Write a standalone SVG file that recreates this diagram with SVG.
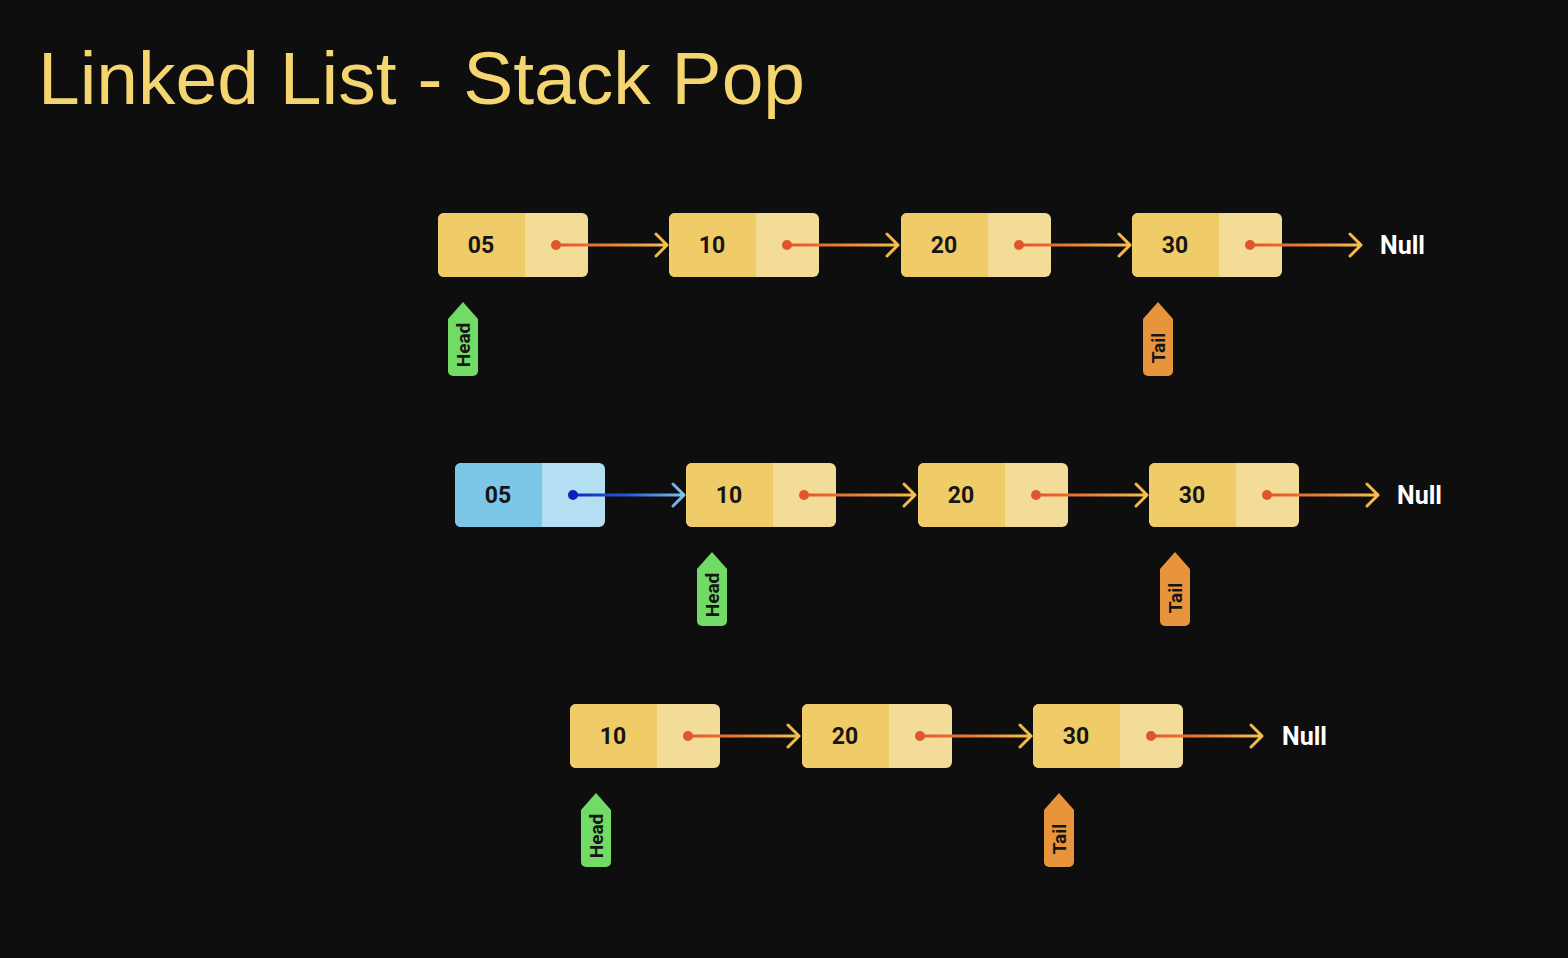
<svg xmlns="http://www.w3.org/2000/svg" width="1568" height="958" viewBox="0 0 1568 958">
  <defs>
    <linearGradient id="gOr" gradientUnits="userSpaceOnUse" x1="0" y1="0" x2="112" y2="0">
      <stop offset="0" stop-color="#E2552B"/>
      <stop offset="0.45" stop-color="#EB7A35"/>
      <stop offset="1" stop-color="#F6C24E"/>
    </linearGradient>
    <linearGradient id="gBl" gradientUnits="userSpaceOnUse" x1="0" y1="0" x2="112" y2="0">
      <stop offset="0" stop-color="#0B28C0"/>
      <stop offset="0.5" stop-color="#2A5AD8"/>
      <stop offset="1" stop-color="#7EC6EC"/>
    </linearGradient>
    <style>
      .bg { fill: #0E0E0E; }
      .title { font-family: "Liberation Sans", Arial, sans-serif; font-size: 75px; fill: #F4D570; }
      .nR { fill: #F2DC98; }
      .nL { fill: #F0CC68; }
      .bR { fill: #B4DEF2; }
      .bL { fill: #7CC6E8; }
      .val { font-family: Roboto, "Liberation Sans", sans-serif; font-weight: 700; font-size: 23px; fill: #151515; text-anchor: middle; dominant-baseline: central; }
      .null { font-family: Roboto, "Liberation Sans", sans-serif; font-weight: 700; font-size: 25px; fill: #FFFFFF; dominant-baseline: central; }
      .tag { font-family: Roboto, "Liberation Sans", sans-serif; font-weight: 700; font-size: 19px; fill: #151515; text-anchor: middle; dominant-baseline: central; }
      .head { fill: #72DB66; }
      .tail { fill: #E8943A; }
      .lnO { fill: none; stroke: url(#gOr); stroke-width: 3; stroke-linecap: round; stroke-linejoin: round; }
      .lnB { fill: none; stroke: url(#gBl); stroke-width: 3; stroke-linecap: round; stroke-linejoin: round; }
      .dotO { fill: #E0552B; }
      .dotB { fill: #0A22B8; }
    </style>
    <path id="lp" d="M6,0 H87 V64 H6 A6,6 0 0 1 0,58 V6 A6,6 0 0 1 6,0 Z"/>
    <path id="tagShape" d="M15,0 L30,17 V69 A5,5 0 0 1 25,74 H5 A5,5 0 0 1 0,69 V17 Z"/>
  </defs>

  <rect class="bg" x="0" y="0" width="1568" height="958"/>
  <text class="title" x="38" y="104">Linked List - Stack Pop</text>

  <!-- Row 1 nodes -->
  <g id="r1n05" transform="translate(438,213)"><rect class="nR" width="150" height="64" rx="6"/><use href="#lp" class="nL"/><text class="val" x="43" y="32">05</text></g>
  <g id="r1n10" transform="translate(669,213)"><rect class="nR" width="150" height="64" rx="6"/><use href="#lp" class="nL"/><text class="val" x="43" y="32">10</text></g>
  <g id="r1n20" transform="translate(901,213)"><rect class="nR" width="150" height="64" rx="6"/><use href="#lp" class="nL"/><text class="val" x="43" y="32">20</text></g>
  <g id="r1n30" transform="translate(1132,213)"><rect class="nR" width="150" height="64" rx="6"/><use href="#lp" class="nL"/><text class="val" x="43" y="32">30</text></g>
  <g id="r1null"><text class="null" x="1380" y="245">Null</text></g>
  <g id="r1head" transform="translate(448,302)"><use href="#tagShape" class="head"/><text class="tag" transform="translate(15,43) rotate(-90)">Head</text></g>
  <g id="r1tail" transform="translate(1143,302)"><use href="#tagShape" class="tail"/><text class="tag" transform="translate(15,46) rotate(-90)">Tail</text></g>

  <!-- Row 2 nodes -->
  <g id="r2n05" transform="translate(455,463)"><rect class="bR" width="150" height="64" rx="6"/><use href="#lp" class="bL"/><text class="val" x="43" y="32">05</text></g>
  <g id="r2n10" transform="translate(686,463)"><rect class="nR" width="150" height="64" rx="6"/><use href="#lp" class="nL"/><text class="val" x="43" y="32">10</text></g>
  <g id="r2n20" transform="translate(918,463)"><rect class="nR" width="150" height="64" rx="6"/><use href="#lp" class="nL"/><text class="val" x="43" y="32">20</text></g>
  <g id="r2n30" transform="translate(1149,463)"><rect class="nR" width="150" height="64" rx="6"/><use href="#lp" class="nL"/><text class="val" x="43" y="32">30</text></g>
  <g id="r2null"><text class="null" x="1397" y="495">Null</text></g>
  <g id="r2head" transform="translate(697,552)"><use href="#tagShape" class="head"/><text class="tag" transform="translate(15,43) rotate(-90)">Head</text></g>
  <g id="r2tail" transform="translate(1160,552)"><use href="#tagShape" class="tail"/><text class="tag" transform="translate(15,46) rotate(-90)">Tail</text></g>

  <!-- Row 3 nodes -->
  <g id="r3n10" transform="translate(570,704)"><rect class="nR" width="150" height="64" rx="6"/><use href="#lp" class="nL"/><text class="val" x="43" y="32">10</text></g>
  <g id="r3n20" transform="translate(802,704)"><rect class="nR" width="150" height="64" rx="6"/><use href="#lp" class="nL"/><text class="val" x="43" y="32">20</text></g>
  <g id="r3n30" transform="translate(1033,704)"><rect class="nR" width="150" height="64" rx="6"/><use href="#lp" class="nL"/><text class="val" x="43" y="32">30</text></g>
  <g id="r3null"><text class="null" x="1282" y="736">Null</text></g>
  <g id="r3head" transform="translate(581,793)"><use href="#tagShape" class="head"/><text class="tag" transform="translate(15,43) rotate(-90)">Head</text></g>
  <g id="r3tail" transform="translate(1044,793)"><use href="#tagShape" class="tail"/><text class="tag" transform="translate(15,46) rotate(-90)">Tail</text></g>

  <!-- Connectors -->
  <g id="connectors">
    <g transform="translate(556,245)"><path class="lnO" d="M0,0 H111 M100,-11 L111,0 L100,11"/><circle class="dotO" r="5"/></g>
    <g transform="translate(787,245)"><path class="lnO" d="M0,0 H111 M100,-11 L111,0 L100,11"/><circle class="dotO" r="5"/></g>
    <g transform="translate(1019,245)"><path class="lnO" d="M0,0 H111 M100,-11 L111,0 L100,11"/><circle class="dotO" r="5"/></g>
    <g transform="translate(1250,245)"><path class="lnO" d="M0,0 H111 M100,-11 L111,0 L100,11"/><circle class="dotO" r="5"/></g>

    <g transform="translate(573,495)"><path class="lnB" d="M0,0 H111 M100,-11 L111,0 L100,11"/><circle class="dotB" r="5"/></g>
    <g transform="translate(804,495)"><path class="lnO" d="M0,0 H111 M100,-11 L111,0 L100,11"/><circle class="dotO" r="5"/></g>
    <g transform="translate(1036,495)"><path class="lnO" d="M0,0 H111 M100,-11 L111,0 L100,11"/><circle class="dotO" r="5"/></g>
    <g transform="translate(1267,495)"><path class="lnO" d="M0,0 H111 M100,-11 L111,0 L100,11"/><circle class="dotO" r="5"/></g>

    <g transform="translate(688,736)"><path class="lnO" d="M0,0 H111 M100,-11 L111,0 L100,11"/><circle class="dotO" r="5"/></g>
    <g transform="translate(920,736)"><path class="lnO" d="M0,0 H111 M100,-11 L111,0 L100,11"/><circle class="dotO" r="5"/></g>
    <g transform="translate(1151,736)"><path class="lnO" d="M0,0 H111 M100,-11 L111,0 L100,11"/><circle class="dotO" r="5"/></g>
  </g>
</svg>
